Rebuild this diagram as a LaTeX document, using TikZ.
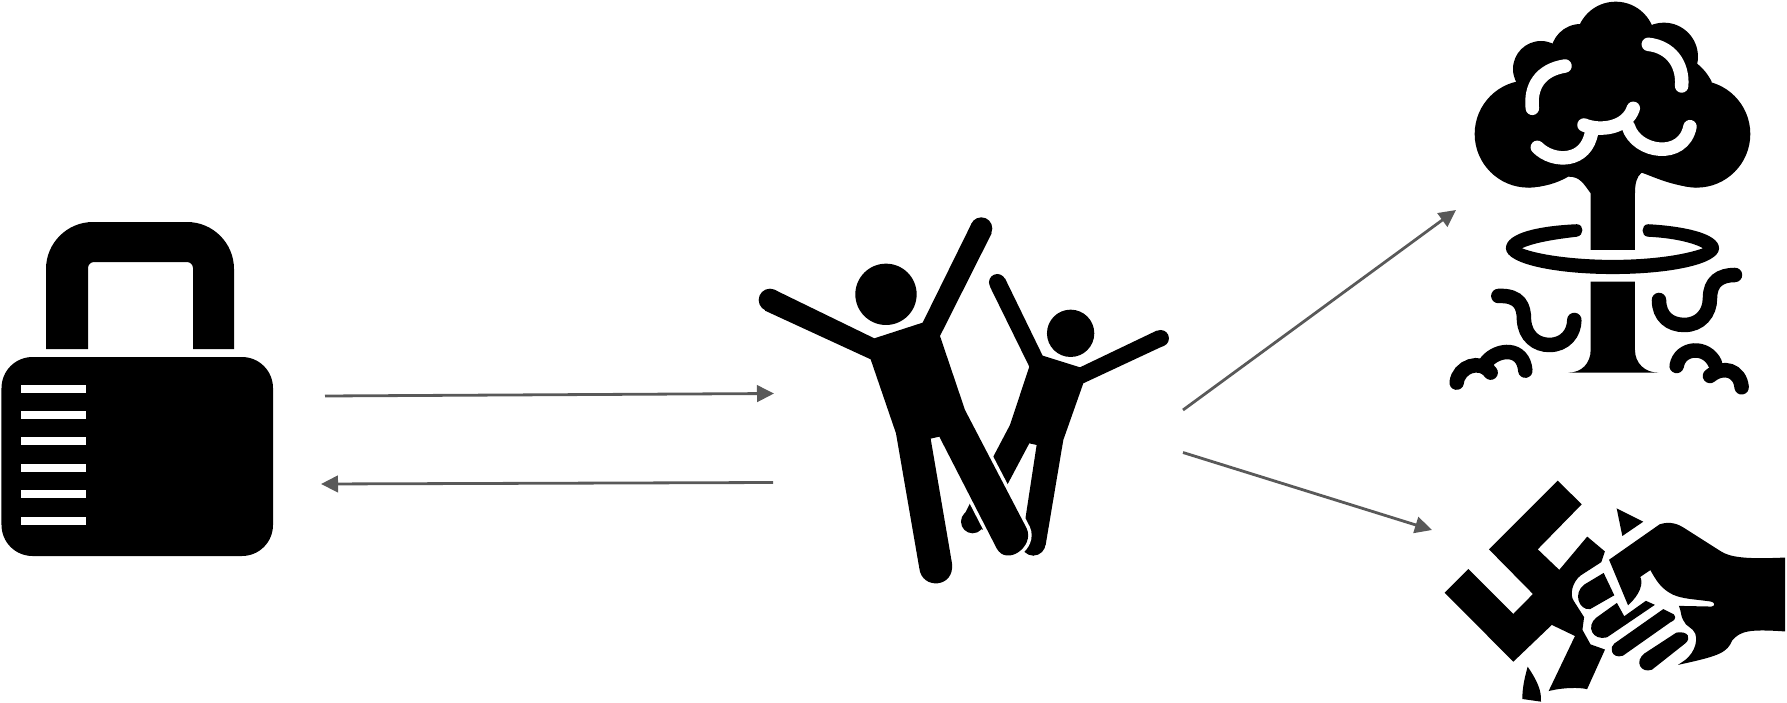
\documentclass[tikz,border=0pt]{standalone}
\usepackage{tikz}
\usepackage{xcolor}
\usetikzlibrary{arrows.meta}
\definecolor{arrowgray}{HTML}{595959}
\begin{document}
\begin{tikzpicture}[x=0.01cm, y=-0.01cm,
  flow/.style={draw=arrowgray, line width=0.028cm, -{Triangle[length=0.17cm, width=0.165cm]}},
  stroke/.style={draw, line width=0.145cm, line cap=round},
  glint/.style={draw=white, line width=0.135cm, line cap=round},
  bold/.style={fill, draw, line width=0.015cm},
  halo/.style={preaction={draw=white, line width=0.07cm}}]
  \useasboundingbox (0,0) rectangle (1787,703);
  % lock
  \fill (46,349) [rounded corners=0.47cm] -- (46,222) -- (234,222) [sharp corners] -- (234,349) -- (193,349) [rounded corners=0.06cm] -- (193,262) -- (88,262) [sharp corners] -- (88,349) -- cycle;
  \fill[rounded corners=0.31cm] (1.5,357) rectangle (273,556);
  \foreach \ypos in {385,411,437,464,490,517}
    \fill[white] (21,\ypos) rectangle (86,\ypos+8);
  % people
  \begin{scope}[shift={(740,200)}, scale=0.3333]
    \fill (992,400) circle[radius=71];
    \fill (772,247) circle[radius=25];
    \fill (1262,415) circle[radius=25];
    \fill (880,1030) circle[radius=37];
    \fill (698,965) circle[radius=35];
    \fill (750,260) -- (795,235) -- (908,467) -- (1020,502) -- (1250,392) -- (1272,437) -- (1030,550) -- (970,720) -- (917,1035) -- (880,1067) -- (845,1030) -- (890,735) -- (868,730) -- (730,990) -- (665,960) -- (760,770) -- (810,675) -- (868,500) -- cycle;
    \fill (438,283) circle[radius=92];
    \path[fill, halo] (403,415) -- (548,368) -- (695,70) -- (755,100) -- (600,408) -- (675,630) -- (860,985) .. controls (885,1040) and (800,1100) .. (770,1045) -- (598,710) -- (572,716) -- (636,1090) .. controls (645,1165) and (545,1170) .. (538,1105) -- (468,700) -- (392,478) -- (75,332) -- (105,270) -- cycle;
    \fill (90,300) circle[radius=34];
    \fill (724,85) circle[radius=33];
  \end{scope}
  % cloud
  \begin{scope}[shift={(1440,0)}, scale=0.3333]
    \fill (265,402) circle[radius=161];
    \fill (770,402) circle[radius=161];
    \fill (527,124) circle[radius=119];
    \fill (303,207) circle[radius=84];
    \fill (422,162) circle[radius=90];
    \fill (672,170) circle[radius=102];
    \fill (300,200) -- (400,100) -- (700,100) -- (770,190) .. controls (790,205) and (805,225) .. (815,245) -- (800,450) -- (770,562) .. controls (700,560) and (640,530) .. (605,518) .. controls (590,530) and (585,550) .. (585,580) -- (585,750) -- (452,750) -- (452,580) .. controls (430,550) and (420,530) .. (385,530) .. controls (350,550) and (310,562) .. (265,562) -- cycle;
    \fill (452,845) -- (585,845) -- (585,1050) .. controls (585,1090) and (615,1118) .. (655,1118) -- (385,1118) .. controls (425,1118) and (452,1090) .. (452,1050) -- cycle;
    \path[bold] (410,675) .. controls (300,680) and (200,700) .. (200,745) .. controls (200,790) and (350,820) .. (518,820) .. controls (690,820) and (835,790) .. (835,745) .. controls (835,700) and (720,680) .. (625,675) .. controls (605,675) and (605,708) .. (625,708) .. controls (700,712) and (760,725) .. (795,745) .. controls (730,770) and (620,782) .. (518,782) .. controls (420,782) and (300,770) .. (240,745) .. controls (280,725) and (350,715) .. (410,708) .. controls (430,705) and (430,675) .. (410,675) -- cycle;
    \path[glint] (375,198) .. controls (300,210) and (270,260) .. (277,325);
    \path[glint] (625,133) .. controls (690,140) and (730,190) .. (725,258);
    \path[glint] (432,375) .. controls (480,395) and (560,385) .. (580,325);
    \path[glint] (292,442) .. controls (340,490) and (440,490) .. (455,395);
    \path[glint] (565,380) .. controls (590,460) and (730,480) .. (750,380);
    \path[stroke] (175,888) .. controls (240,885) and (252,920) .. (252,960) .. controls (255,1010) and (290,1035) .. (328,1035) .. controls (375,1035) and (403,1000) .. (403,960);
    \path[stroke] (657,900) .. controls (657,950) and (690,975) .. (733,975) .. controls (780,975) and (810,940) .. (810,895) .. controls (810,845) and (840,825) .. (885,825);
    \path[stroke] (50,1148) .. controls (55,1100) and (120,1075) .. (152,1118);
    \path[stroke] (140,1085) .. controls (175,1045) and (250,1040) .. (256,1112);
    \path[stroke] (710,1098) .. controls (720,1040) and (800,1035) .. (825,1090);
    \path[stroke] (810,1128) .. controls (850,1095) and (900,1110) .. (905,1162);
  \end{scope}
  % fist
  \begin{scope}[shift={(1430,470)}, scale=0.3333]
    \path[bold] (383,35) -- (452,103) -- (320,238) -- (388,303) -- (472,203) -- (522,245) -- (512,275) -- (450,315) .. controls (425,335) and (415,375) .. (430,395) -- (460,442) -- (455,480) -- (480,525) -- (522,540) -- (470,655) .. controls (450,650) and (400,650) .. (360,660) -- (438,497) -- (365,462) -- (250,572) -- (47,368) -- (115,300) -- (250,435) -- (312,372) -- (180,238) -- cycle;
    \fill (560,115) -- (640,155) -- (577,198) -- cycle;
    \fill (293,590) .. controls (320,630) and (335,660) .. (333,695) -- (277,687) .. controls (277,650) and (285,620) .. (293,590) -- cycle;
    \path[bold] (540,270) -- (690,165) .. controls (720,155) and (745,165) .. (760,175) -- (870,245) .. controls (900,265) and (950,270) .. (1063,265) -- (1063,482) .. controls (960,475) and (930,480) .. (905,510) .. controls (890,545) and (870,555) .. (755,580) .. controls (790,560) and (808,520) .. (798,490) .. controls (790,470) and (770,470) .. (762,450) .. controls (755,440) and (755,420) .. (750,410) -- (845,412) .. controls (860,410) and (860,395) .. (840,392) .. controls (790,385) and (760,385) .. (730,372) .. controls (695,355) and (680,330) .. (662,297) -- (628,320) .. controls (640,340) and (625,375) .. (595,402) -- cycle;
    \path[bold] (520,312) -- (550,375) -- (480,415) .. controls (450,420) and (430,370) .. (465,345) -- cycle;
    \path[bold] (560,402) -- (582,442) -- (648,395) -- (670,405) -- (530,500) .. controls (490,510) and (470,470) .. (500,445) -- cycle;
    \path[bold] (700,420) -- (730,435) .. controls (738,445) and (730,450) .. (720,455) -- (578,555) .. controls (545,565) and (540,530) .. (555,522) -- cycle;
    \path[bold] (740,490) .. controls (775,485) and (780,505) .. (765,518) -- (665,597) .. controls (635,608) and (615,575) .. (645,552) -- cycle;
  \end{scope}
  % arrows
  \coordinate (lockout) at (325,396);
  \coordinate (peoplein) at (774,393.5);
  \coordinate (peopleout) at (773,482.5);
  \coordinate (lockin) at (321,484);
  \coordinate (blastfrom) at (1183,410);
  \coordinate (blast) at (1456,210);
  \coordinate (fistfrom) at (1183,452.5);
  \coordinate (fist) at (1432,530);
  \draw[flow] (lockout) -- (peoplein);
  \draw[flow] (peopleout) -- (lockin);
  \draw[flow] (blastfrom) -- (blast);
  \draw[flow] (fistfrom) -- (fist);
\end{tikzpicture}
\end{document}
